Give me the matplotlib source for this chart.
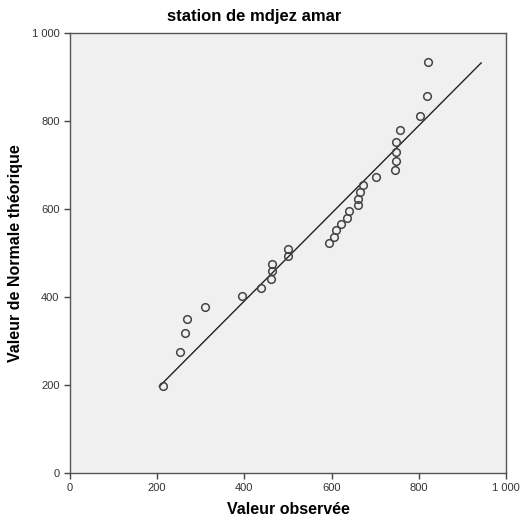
import matplotlib
matplotlib.use("Agg")
import matplotlib.pyplot as plt

plt.rcParams['font.family'] = ['Liberation Sans', 'DejaVu Sans']

# observed values vs expected normal values
observed = [213, 252, 264, 269, 310, 395, 438, 460, 463, 464, 499, 501,
            594, 605, 609, 622, 635, 640, 661, 661, 665, 673, 702, 745,
            747, 748, 747, 756, 803, 819, 822]
expected = [198, 275, 318, 351, 378, 403, 422, 441, 459, 476, 493, 509,
            523, 538, 552, 566, 580, 595, 609, 624, 640, 655, 673, 690,
            709, 730, 753, 780, 812, 857, 934]

line_x = [205, 943]
line_y = [197, 933]

ticks = [0, 200, 400, 600, 800, 1000]
tick_labels = ['0', '200', '400', '600', '800', '1 000']

fig = plt.figure(figsize=(5.29, 5.23), dpi=100)
ax = fig.add_axes([0.1323, 0.0956, 0.8242, 0.8404])
ax.set_facecolor('#f0f0f0')

ax.plot(line_x, line_y, color='#222222', linewidth=1.0)
ax.plot(observed, expected, linestyle='none', marker='o', markersize=5.5,
        markerfacecolor='none', markeredgecolor='#444444', markeredgewidth=1.1)

ax.set_xlim(0, 1000)
ax.set_ylim(0, 1000)
ax.set_xticks(ticks)
ax.set_xticklabels(tick_labels)
ax.set_yticks(ticks)
ax.set_yticklabels(tick_labels)
ax.tick_params(direction='out', length=4, width=1, colors='#444444',
               labelcolor='#333333', labelsize=8)
for s in ax.spines.values():
    s.set_color('#555555')
    s.set_linewidth(1.0)

# SPSS centres the title over the whole chart, not the plot area
fig.text(254 / 529, 1 - 17 / 523, 'station de mdjez amar', fontsize=12,
         fontweight='bold', ha='center', va='center')
ax.set_xlabel('Valeur observée', fontsize=11.5, fontweight='bold', labelpad=6)
ax.set_ylabel('Valeur de Normale théorique', fontsize=11.5, fontweight='bold', labelpad=6)

fig.savefig('out.png', dpi=100)
